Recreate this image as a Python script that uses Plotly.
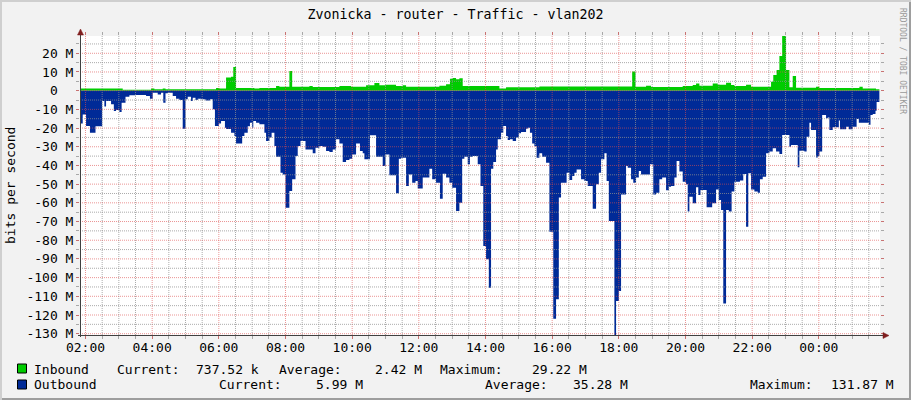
import plotly.graph_objects as go

# ---------------- data (values in Mbit/s, time in minutes after 02:00) -------------
TITLE = "Zvonicka - router - Traffic - vlan202"
Y_LABEL = "bits per second"
WATERMARK = "RRDTOOL / TOBI OETIKER"

x_tick_minutes = [0, 120, 240, 360, 480, 600, 720, 840, 960, 1080, 1200, 1320]
x_tick_labels = ["02:00", "04:00", "06:00", "08:00", "10:00", "12:00",
                 "14:00", "16:00", "18:00", "20:00", "22:00", "00:00"]
y_tick_values = [20, 10, 0, -10, -20, -30, -40, -50, -60, -70, -80, -90,
                 -100, -110, -120, -130]
y_tick_labels = ["20 M", "10 M", "0\u00a0\u00a0", "-10 M", "-20 M", "-30 M", "-40 M",
                 "-50 M", "-60 M", "-70 M", "-80 M", "-90 M", "-100 M",
                 "-110 M", "-120 M", "-130 M"]

inbound_minutes = [-9, 67, 118, 124, 139, 144, 235, 241, 253, 262, 266, 271, 304, 313,
                   343, 349, 367, 372, 403, 409, 457, 478, 505, 520, 529, 541, 559,
                   571, 577, 637, 649, 656, 661, 667, 673, 679, 745, 757, 817, 984,
                   990, 1009, 1018, 1075, 1093, 1099, 1105, 1129, 1138, 1153, 1162,
                   1168, 1189, 1198, 1234, 1238, 1244, 1249, 1254, 1261, 1267, 1273,
                   1279, 1315, 1321, 1393, 1399, 1423, 1429]
inbound_mbps = [1.1, 0.5, 1.2, 0.7, 1.1, 0.7, 1.4, 1.1, 7.0, 7.5, 12.7, 1.4, 1.1, 1.4,
                2.5, 2.1, 10.5, 2.1, 2.5, 2.0, 2.5, 2.1, 2.9, 4.1, 2.9, 3.2, 2.5,
                2.9, 2.1, 2.7, 3.4, 6.4, 6.8, 6.1, 6.6, 2.5, 1.2, 1.8, 2.3, 10.2,
                2.1, 2.7, 2.0, 2.5, 3.0, 3.9, 2.7, 3.9, 3.2, 4.3, 3.0,
                2.5, 3.2, 2.1, 4.8, 8.4, 11.0, 18.5, 29.22, 11.0, 1.8, 7.8,
                1.6, 2.1, 1.4, 2.1, 1.2, 0.74, 0.74]

outbound_minutes = [-9, -5, 1, 8, 18, 30, 34, 37, 46, 51, 55, 61, 65, 72, 79, 91, 109,
                    116, 121, 130, 136, 140, 144, 148, 157, 163, 169, 175, 180, 184,
                    190, 193, 198, 202, 208, 216, 224, 229, 233, 240, 244, 251, 253,
                    262, 268, 271, 282, 286, 292, 296, 300, 302, 307, 313, 322, 325,
                    331, 335, 340, 343, 351, 355, 360, 367, 372, 378, 382, 387, 396,
                    409, 414, 421, 427, 433, 439, 445, 451, 457, 463, 469, 475, 480,
                    487, 494, 499, 502, 512, 523, 535, 540, 547, 559, 564, 568, 577,
                    582, 588, 594, 598, 607, 619, 624, 631, 638, 643, 649, 655, 660,
                    667, 673, 678, 682, 688, 692, 697, 706, 711, 716, 721, 726, 730,
                    734, 739, 742, 748, 752, 757, 760, 764, 769, 775, 780, 784, 793,
                    796, 800, 804, 808, 812, 817, 822, 829, 835, 842, 847, 852, 856,
                    866, 871, 876, 880, 884, 892, 898, 904, 913, 919, 924, 928, 934,
                    938, 942, 952, 955, 960, 964, 973, 976, 982, 986, 991, 996, 1000,
                    1016, 1022, 1027, 1033, 1038, 1045, 1050, 1054, 1060, 1064, 1069,
                    1075, 1081, 1084, 1087, 1093, 1099, 1103, 1107, 1118, 1128, 1135,
                    1140, 1144, 1148, 1153, 1158, 1163, 1168, 1178, 1184, 1189, 1193,
                    1198, 1204, 1210, 1214, 1219, 1225, 1231, 1237, 1243, 1249, 1254,
                    1267, 1270, 1282, 1285, 1294, 1298, 1303, 1306, 1315, 1318, 1321,
                    1326, 1333, 1336, 1339, 1345, 1356, 1358, 1369, 1374, 1381, 1388,
                    1392, 1410, 1413, 1417, 1422, 1424, 1429]
outbound_mbps = [-17.5, -12.8, -18.9, -22.5, -19.0, -5.5, -8.5, -5.5, -7.3, -10.9, -10.3,
                 -11.4, -6.4, -3.2, -2.5, -2.3, -2.9, -4.3, -1.1, -2.0, -1.1, -6.4, -1.4,
                 -1.1, -2.9, -4.3, -5.0, -20.3, -4.6, -3.2, -5.5, -3.8, -5.0, -4.3, -4.6,
                 -5.2, -4.6, -10.0, -18.9, -17.5, -16.2, -19.8, -20.5, -22.5, -24.3,
                 -28.2, -24.3, -22.5, -19.0, -17.1, -19.8, -16.2, -17.1, -18.0, -22.5,
                 -26.9, -25.1, -22.5, -29.6, -35.3, -43.9, -44.8, -62.6, -53.7, -47.4,
                 -35.0, -29.6, -26.9, -31.4, -33.5, -30.5, -29.6, -30.0, -32.3, -32.8,
                 -31.4, -26.0, -28.2, -38.2, -37.1, -36.4, -34.1, -28.2, -32.3, -33.5,
                 -36.7, -23.9, -35.3, -40.3, -34.1, -45.3, -54.9, -36.4, -35.9, -51.0,
                 -44.8, -49.2, -48.3, -52.3, -46.5, -41.7, -47.4, -49.2, -57.8, -44.4,
                 -46.5, -49.2, -51.9, -64.4, -59.9, -36.4, -35.3, -39.4, -35.3, -35.0,
                 -39.4, -51.0, -83.1, -90.2, -105.4, -41.7, -38.2, -31.4, -26.0, -22.5,
                 -18.9, -24.3, -26.4, -26.0, -26.9, -25.1, -22.8, -22.1, -20.3, -19.8,
                 -22.5, -28.2, -29.6, -35.9, -33.5, -35.3, -38.5, -75.4, -122.0, -111.6,
                 -57.2, -49.2, -43.9, -47.8, -45.7, -43.9, -42.1, -47.4, -48.3, -51.0,
                 -63.1, -50.1, -43.9, -36.7, -33.5, -48.3, -69.7, -131.87, -112.5,
                 -107.2, -55.5, -40.3, -41.2, -47.4, -49.2, -46.5, -43.0, -44.8, -39.4,
                 -55.5, -54.6, -47.4, -46.5, -53.2, -51.4, -51.0, -46.5, -37.6, -43.3,
                 -48.7, -50.0, -64.7, -56.7, -60.2, -51.7, -55.8, -53.1, -62.4, -60.2,
                 -52.8, -58.5, -63.8, -113.8, -63.8, -64.7, -54.0, -48.7, -48.1, -44.6,
                 -72.8, -44.2, -52.8, -54.0, -54.6, -47.4, -46.0, -33.5, -32.6, -30.8,
                 -32.6, -33.9, -23.7, -30.0, -29.1, -41.0, -32.1, -32.6, -24.6, -17.1,
                 -21.0, -35.7, -35.0, -32.6, -13.0, -14.8, -14.3, -21.0, -19.6, -16.0,
                 -20.7, -19.3, -20.7, -19.3, -15.2, -17.1, -18.2, -13.0, -12.5, -10.7,
                 -5.99, -5.99]

series_names = ["Inbound", "Outbound"]
stat_labels = ["Current:", "Average:", "Maximum:"]
inbound_stats = ["737.52 k", "2.42 M", "29.22 M"]
outbound_stats = ["5.99 M", "35.28 M", "131.87 M"]

# ---------------- style ----------------
W, H = 911, 400
ML, MR, MT, MB = 80, 31, 36, 65
PW, PH = W - ML - MR, H - MT - MB
FONT = "DejaVu Sans Mono"
GREEN = "#00CC00"
BLUE = "#002A97"
BACK = "#F2F2F2"
SHADE_A = "#CFCFCF"
SHADE_B = "#9E9E9E"
GRID = "rgba(143,143,143,0.75)"
MGRID = "rgba(222,79,79,0.6)"
ARROW = "#801F1F"
AXIS = "#404040"
X_RANGE = [-9.9, 1430.1]
Y_RANGE = [-130.7, 29.25]


def px(x):
    return (x - ML) / PW


def py(y):
    return (MT + PH - y) / PH


fig = go.Figure()
fig.add_trace(go.Scatter(x=inbound_minutes, y=inbound_mbps, mode="lines",
                         line=dict(shape="hv", width=0, color=GREEN),
                         fill="tozeroy", fillcolor=GREEN, name=series_names[0],
                         hoverinfo="skip"))
fig.add_trace(go.Scatter(x=outbound_minutes, y=outbound_mbps, mode="lines",
                         line=dict(shape="hv", width=0, color=BLUE),
                         fill="tozeroy", fillcolor=BLUE, name=series_names[1],
                         hoverinfo="skip"))

shapes = []
# grid drawn above the data, like rrdtool
for m in range(0, int(X_RANGE[1]) + 1, 30):
    shapes.append(dict(type="line", xref="x", yref="paper", x0=m, x1=m, y0=0, y1=1,
                       layer="above",
                       line=dict(color=MGRID if m % 120 == 0 else GRID, width=1,
                                 dash="1px,1px")))
for v in range(-130, 30, 5):
    shapes.append(dict(type="line", xref="paper", yref="y", x0=0, x1=1, y0=v, y1=v,
                       layer="above",
                       line=dict(color=MGRID if v % 10 == 0 else GRID, width=1,
                                 dash="1px,1px")))
# axis lines
shapes.append(dict(type="line", xref="paper", yref="paper",
                   x0=px(80.5), x1=px(80.5), y0=py(337), y1=py(31),
                   layer="above", line=dict(color=AXIS, width=1)))
shapes.append(dict(type="line", xref="paper", yref="paper",
                   x0=px(78), x1=px(884), y0=py(335.5), y1=py(335.5),
                   layer="above", line=dict(color=AXIS, width=1)))
# arrows
shapes.append(dict(type="path", xref="paper", yref="paper", layer="above",
                   path=f"M {px(77.5)},{py(35)} L {px(80.5)},{py(29)} L {px(83.5)},{py(35)} Z",
                   fillcolor=ARROW, line=dict(color=ARROW, width=0.5)))
shapes.append(dict(type="path", xref="paper", yref="paper", layer="above",
                   path=f"M {px(883)},{py(332.5)} L {px(889)},{py(335.5)} L {px(883)},{py(338.5)} Z",
                   fillcolor=ARROW, line=dict(color=ARROW, width=0.5)))
# 3D frame
shapes.append(dict(type="rect", xref="paper", yref="paper", x0=px(0), x1=px(W),
                   y0=py(0), y1=py(2), fillcolor=SHADE_A, line=dict(width=0)))
shapes.append(dict(type="rect", xref="paper", yref="paper", x0=px(0), x1=px(2),
                   y0=py(0), y1=py(H), fillcolor=SHADE_A, line=dict(width=0)))
shapes.append(dict(type="rect", xref="paper", yref="paper", x0=px(2), x1=px(W),
                   y0=py(H - 2), y1=py(H), fillcolor=SHADE_B, line=dict(width=0)))
shapes.append(dict(type="rect", xref="paper", yref="paper", x0=px(W - 2), x1=px(W),
                   y0=py(2), y1=py(H), fillcolor=SHADE_B, line=dict(width=0)))
# legend boxes
for (y0, col) in [(364, GREEN), (380, BLUE)]:
    shapes.append(dict(type="rect", xref="paper", yref="paper", x0=px(17.5), x1=px(26.5),
                       y0=py(y0), y1=py(y0 + 9), fillcolor=col,
                       line=dict(color="#000000", width=1)))

ann = []
tf = dict(family=FONT, size=13, color="#000000")


def text(x, y, s, anchor="left", font=tf, angle=0):
    ann.append(dict(x=px(x), y=py(y), xref="paper", yref="paper", text=s,
                    showarrow=False, xanchor=anchor, yanchor="middle", font=font,
                    textangle=angle, borderpad=0, borderwidth=0))


# legend rows
r1, r2 = 369, 384.5
text(34, r1, series_names[0])
text(116.5, r1, stat_labels[0]); text(258.5, r1, inbound_stats[0], "right")
text(279, r1, stat_labels[1]); text(422, r1, inbound_stats[1], "right")
text(440, r1, stat_labels[2]); text(587, r1, inbound_stats[2], "right")
text(34, r2, series_names[1])
text(219, r2, stat_labels[0]); text(363, r2, outbound_stats[0], "right")
text(485, r2, stat_labels[1]); text(627.5, r2, outbound_stats[1], "right")
text(750, r2, stat_labels[2]); text(893.5, r2, outbound_stats[2], "right")
# y-axis title and watermark
text(10, 186, Y_LABEL, "center", angle=-90)
text(903, 61, WATERMARK, "center",
     font=dict(family=FONT, size=8, color="#9A9A9A"), angle=90)

fig.update_layout(
    width=W, height=H, autosize=False,
    margin=dict(l=ML, r=MR, t=MT, b=MB, pad=0),
    paper_bgcolor=BACK, plot_bgcolor="#FFFFFF",
    showlegend=False,
    title=dict(text=TITLE, x=0.5, xanchor="center", y=1 - 14.5 / H, yanchor="middle",
               font=dict(family=FONT, size=13.3, color="#000000")),
    shapes=shapes, annotations=ann,
    font=dict(family=FONT, size=13, color="#000000"),
)
fig.update_xaxes(range=X_RANGE, tickmode="array", tickvals=x_tick_minutes,
                 ticktext=x_tick_labels, showgrid=False, zeroline=False, showline=False,
                 ticks="outside", ticklen=3, tickcolor=MGRID, tickwidth=1, mirror="ticks",
                 ticklabelstandoff=-3,
                 tickfont=dict(family=FONT, size=13, color="#000000"),
                 minor=dict(tick0=0, dtick=30, ticks="outside", ticklen=3,
                            tickcolor=GRID, showgrid=False),
                 fixedrange=True)
fig.update_yaxes(range=Y_RANGE, tickmode="array", tickvals=y_tick_values,
                 ticktext=y_tick_labels, showgrid=False, zeroline=False, showline=False,
                 ticks="outside", ticklen=3, tickcolor=MGRID, tickwidth=1, mirror="ticks",
                 tickfont=dict(family=FONT, size=13, color="#000000"),
                 minor=dict(tick0=0, dtick=5, ticks="outside", ticklen=3,
                            tickcolor=GRID, showgrid=False),
                 fixedrange=True)

fig.write_html("out.html", config={"displayModeBar": False, "staticPlot": True},
               post_script="document.body.style.margin='0';document.body.style.padding='0';")
